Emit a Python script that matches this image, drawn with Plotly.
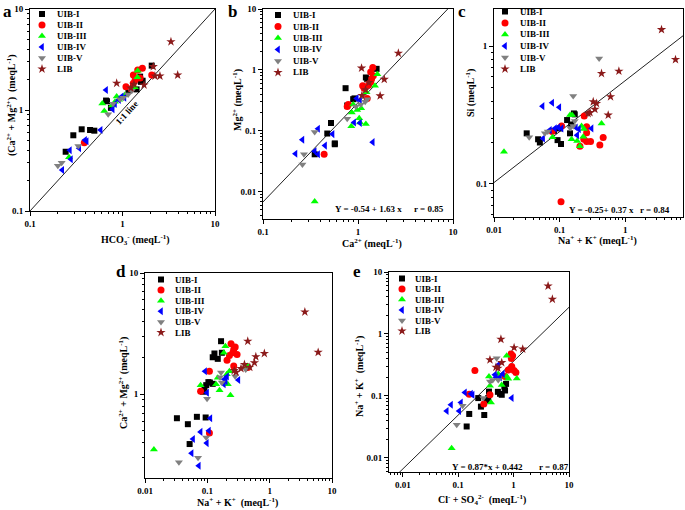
import numpy as np
import plotly.graph_objects as go

W, H = 685, 510
FONT = "Liberation Serif"

GROUPS = ["UIB-I", "UIB-II", "UIB-III", "UIB-IV", "UIB-V", "LIB"]
COLORS = ["#000000", "#FF0000", "#00FF00", "#0000FF", "#808080", "#8B1A1A"]
SYMBOLS = ["square", "circle", "triangle-up", "triangle-left", "triangle-down", "star"]
SIZES = [6, 7, 7, 7, 7, 7]

# ---------------- Panel a: HCO3- vs Ca2+ + Mg2+ ----------------
A_I_X = [0.243, 0.294, 0.362, 0.446, 0.496, 0.664, 0.68, 0.75, 1.16, 1.42, 1.55, 1.58, 1.65, 2.07]
A_I_Y = [0.386, 0.562, 0.644, 0.634, 0.624, 1.24, 1.22, 1.05, 1.58, 1.60, 2.14, 1.90, 1.95, 2.75]
A_II_X = [1.09, 1.31, 1.37, 1.31, 1.46, 1.64, 2.07, 0.386, 1.24, 1.55]
A_II_Y = [1.70, 2.22, 1.98, 1.84, 2.49, 2.59, 2.22, 0.474, 1.62, 2.07]
A_III_X = [1.46, 1.36, 1.45, 0.865, 0.605, 0.636, 0.83, 0.92, 0.264, 1.06, 0.77]
A_III_Y = [2.45, 1.68, 2.11, 1.36, 1.16, 0.98, 1.21, 1.26, 0.34, 1.41, 1.11]
A_IV_X = [0.664, 0.783, 0.98, 0.916, 0.58, 0.394, 0.41, 0.341, 0.27, 0.277, 0.223, 0.83, 1.05]
A_IV_Y = [1.58, 1.02, 1.36, 1.26, 0.634, 0.504, 0.49, 0.418, 0.40, 0.325, 0.255, 1.15, 1.32]
A_V_X = [0.70, 0.94, 1.02, 1.15, 1.26, 0.333, 0.20, 0.22, 0.79]
A_V_Y = [0.91, 1.28, 1.32, 1.42, 1.55, 0.44, 0.28, 0.30, 1.15]
A_LIB_X = [0.865, 1.71, 2.15, 2.24, 2.54, 3.34, 3.95, 1.23, 1.33]
A_LIB_Y = [1.84, 1.77, 2.69, 2.17, 2.17, 4.74, 2.22, 1.65, 1.80]

# ---------------- Panel b: Ca2+ vs Mg2+ ----------------
B_I_X = [1.57, 1.21, 1.25, 0.74, 0.89, 0.92, 0.77, 0.52, 0.475, 0.57, 0.57, 0.35]
B_I_Y = [1.04, 0.75, 0.70, 0.50, 0.33, 0.34, 0.26, 0.134, 0.090, 0.062, 0.060, 0.041]
B_II_X = [1.43, 1.36, 1.39, 1.36, 1.16, 1.12, 1.29, 1.25, 0.79, 0.77, 0.44, 1.45]
B_II_Y = [1.09, 0.92, 0.71, 0.63, 0.50, 0.55, 0.56, 0.34, 0.27, 0.25, 0.041, 0.80]
B_III_X = [1.60, 1.51, 0.89, 0.86, 1.08, 1.03, 1.05, 1.21, 0.85, 0.35, 0.98, 1.23]
B_III_Y = [0.85, 0.55, 0.27, 0.20, 0.235, 0.16, 0.137, 0.129, 0.118, 0.0069, 0.22, 0.43]
B_IV_X = [0.97, 1.05, 0.91, 1.05, 0.54, 0.38, 0.26, 0.45, 1.43, 0.35, 0.38, 0.22]
B_IV_Y = [0.34, 0.32, 0.137, 0.134, 0.088, 0.108, 0.071, 0.057, 0.065, 0.046, 0.041, 0.042]
B_V_X = [1.07, 1.19, 1.25, 0.95, 0.77, 0.35, 0.27, 0.26]
B_V_Y = [0.27, 0.30, 0.33, 0.25, 0.157, 0.095, 0.041, 0.028]
B_LIB_X = [1.09, 1.89, 1.71, 2.66, 1.20, 1.30, 1.10]
B_LIB_Y = [1.07, 0.70, 0.375, 1.88, 0.47, 0.62, 0.38]
B_FIT = (-0.54, 1.63)

# ---------------- Panel c: Na+ + K+ vs Si ----------------
C_I_X = [0.0315, 0.047, 0.050, 0.093, 0.105, 0.082, 0.101, 0.144, 0.13, 0.165, 0.17, 0.15]
C_I_Y = [0.233, 0.211, 0.20, 0.208, 0.195, 0.243, 0.253, 0.233, 0.291, 0.325, 0.32, 0.27]
C_II_X = [0.107, 0.237, 0.258, 0.234, 0.258, 0.296, 0.41, 0.461, 0.204, 0.105, 0.258, 0.077]
C_II_Y = [0.263, 0.311, 0.235, 0.211, 0.203, 0.203, 0.192, 0.217, 0.188, 0.0744, 0.26, 0.24]
C_III_X = [0.0142, 0.144, 0.155, 0.216, 0.152, 0.185, 0.204, 0.229, 0.435, 0.078, 0.234]
C_III_Y = [0.171, 0.316, 0.316, 0.263, 0.211, 0.205, 0.188, 0.22, 0.275, 0.218, 0.25]
C_IV_X = [0.055, 0.077, 0.099, 0.056, 0.071, 0.085, 0.095, 0.107, 0.177, 0.185, 0.197, 0.307]
C_IV_Y = [0.367, 0.388, 0.36, 0.214, 0.246, 0.253, 0.257, 0.253, 0.257, 0.226, 0.25, 0.253]
C_V_X = [0.40, 0.161, 0.0344, 0.0597, 0.066, 0.161, 0.17, 0.272, 0.145]
C_V_Y = [0.814, 0.435, 0.218, 0.233, 0.24, 0.263, 0.286, 0.325, 0.255]
C_LIB_X = [3.57, 5.83, 0.435, 0.80, 0.597, 0.325, 0.365, 0.345, 0.272, 0.55, 0.29]
C_LIB_Y = [1.32, 0.80, 0.634, 0.659, 0.43, 0.395, 0.384, 0.348, 0.325, 0.316, 0.33]
C_FIT = (-0.25, 0.37)

# ---------------- Panel d: Na+ + K+ vs Ca2+ + Mg2+ ----------------
D_I_X = [0.166, 0.13, 0.122, 0.147, 0.171, 0.104, 0.122, 0.11, 0.096, 0.09, 0.085, 0.0325, 0.0487, 0.068, 0.094, 0.052]
D_I_Y = [2.74, 2.17, 2.02, 1.96, 2.2, 1.26, 1.22, 1.25, 1.19, 1.13, 1.05, 0.635, 0.567, 0.652, 0.644, 0.389]
D_II_X = [0.24, 0.265, 0.256, 0.30, 0.226, 0.207, 0.265, 0.108, 0.078, 0.108, 0.445, 0.28]
D_II_Y = [2.61, 2.34, 2.2, 2.13, 2.09, 1.91, 1.71, 1.55, 1.06, 0.479, 1.66, 2.45]
D_III_X = [0.195, 0.184, 0.0139, 0.445, 0.226, 0.205, 0.147, 0.078, 0.138, 0.213, 0.157, 0.235]
D_III_Y = [2.49, 2.2, 0.35, 1.71, 1.55, 1.46, 1.37, 1.19, 1.21, 1.21, 1.08, 0.98]
D_IV_X = [0.092, 0.207, 0.188, 0.184, 0.197, 0.315, 0.099, 0.112, 0.106, 0.078, 0.059, 0.098, 0.056, 0.073]
D_IV_Y = [1.55, 1.40, 1.33, 1.21, 1.28, 1.31, 1.03, 0.635, 0.50, 0.49, 0.428, 0.396, 0.327, 0.258]
D_V_X = [0.166, 0.171, 0.16, 0.279, 0.413, 0.099, 0.096, 0.071, 0.035]
D_V_Y = [1.51, 1.25, 1.38, 1.41, 1.60, 0.92, 0.44, 0.30, 0.275]
D_LIB_X = [3.67, 6.0, 0.445, 0.822, 0.60, 0.569, 0.394, 0.347, 0.289, 0.27, 0.48]
D_LIB_Y = [4.77, 2.22, 2.74, 2.17, 2.04, 1.82, 1.76, 1.63, 1.52, 1.57, 1.67]

# ---------------- Panel e: Cl- + SO4 2- vs Na+ + K+ ----------------
E_I_X = [0.142, 0.158, 0.295, 0.257, 0.23, 0.327, 0.348, 0.359, 0.567, 0.61, 0.70, 0.68, 0.73, 0.52]
E_I_Y = [0.032, 0.051, 0.049, 0.067, 0.092, 0.084, 0.092, 0.117, 0.108, 0.104, 0.122, 0.141, 0.156, 0.116]
E_II_X = [0.90, 0.96, 0.91, 0.20, 0.80, 1.02, 1.10, 0.925, 0.70, 0.374, 0.29, 0.158]
E_II_Y = [0.476, 0.442, 0.40, 0.256, 0.262, 0.256, 0.238, 0.297, 0.205, 0.104, 0.074, 0.106]
E_III_X = [0.75, 0.359, 0.374, 0.528, 0.75, 0.80, 1.14, 0.61, 0.39, 0.076]
E_III_Y = [0.442, 0.205, 0.145, 0.226, 0.205, 0.188, 0.19, 0.15, 0.078, 0.0143]
E_IV_X = [0.528, 0.48, 0.46, 0.567, 0.64, 0.132, 0.182, 0.17, 0.925, 0.074, 0.112, 0.062, 0.104]
E_IV_Y = [0.316, 0.20, 0.22, 0.20, 0.226, 0.113, 0.104, 0.108, 0.092, 0.072, 0.078, 0.057, 0.057]
E_V_X = [0.494, 0.374, 0.42, 0.528, 0.283, 0.12, 0.094]
E_V_Y = [0.406, 0.17, 0.18, 0.181, 0.092, 0.069, 0.034]
E_LIB_X = [4.19, 5.01, 0.59, 1.02, 1.46, 0.374, 0.61, 0.48, 0.52]
E_LIB_Y = [5.94, 3.63, 0.82, 0.60, 0.57, 0.381, 0.344, 0.29, 0.28]
E_FIT = (-0.44, 0.87)

PANELS = {
    "a": [(A_I_X, A_I_Y), (A_II_X, A_II_Y), (A_III_X, A_III_Y), (A_IV_X, A_IV_Y), (A_V_X, A_V_Y), (A_LIB_X, A_LIB_Y)],
    "b": [(B_I_X, B_I_Y), (B_II_X, B_II_Y), (B_III_X, B_III_Y), (B_IV_X, B_IV_Y), (B_V_X, B_V_Y), (B_LIB_X, B_LIB_Y)],
    "c": [(C_I_X, C_I_Y), (C_II_X, C_II_Y), (C_III_X, C_III_Y), (C_IV_X, C_IV_Y), (C_V_X, C_V_Y), (C_LIB_X, C_LIB_Y)],
    "d": [(D_I_X, D_I_Y), (D_II_X, D_II_Y), (D_III_X, D_III_Y), (D_IV_X, D_IV_Y), (D_V_X, D_V_Y), (D_LIB_X, D_LIB_Y)],
    "e": [(E_I_X, E_I_Y), (E_II_X, E_II_Y), (E_III_X, E_III_Y), (E_IV_X, E_IV_Y), (E_V_X, E_V_Y), (E_LIB_X, E_LIB_Y)],
}

# ---------------- layout (pixel boxes) ----------------
BOX = {
    "a": (30, 215, 9, 211), "b": (263, 453, 9, 219), "c": (494, 683, 9, 217),
    "d": (145, 332, 273, 478), "e": (389, 569, 272, 472),
}
XR = {"a": [-1, 1], "b": [-1, 1], "c": [-2, 0.88], "d": [-2, 1], "e": [-2.25, 1]}
YR = {"a": [-1, 1], "b": [-2.45, 1], "c": [-1.24, 0.27], "d": [-0.69, 1], "e": [-2.23, 1]}
AX = {"a": ("x", "y"), "b": ("x2", "y2"), "c": ("x3", "y3"), "d": ("x4", "y4"), "e": ("x5", "y5")}


def px(xp):
    return xp / W


def py(yp):
    return 1 - yp / H


TF = dict(family=FONT, size=9, color="black", weight="bold")


def decade_ticks(rng):
    lo, hi = rng
    major = [10.0 ** k for k in range(int(np.ceil(lo - 1e-9)), int(np.floor(hi + 1e-9)) + 1)]
    minor = []
    for k in range(int(np.floor(lo)), int(np.ceil(hi)) + 1):
        for m in range(2, 10):
            v = m * 10.0 ** k
            if lo <= np.log10(v) <= hi:
                minor.append(v)
    return major, minor


def fmt(v):
    return "%g" % v


def make_axis(rng, domain, anchor):
    major, minor = decade_ticks(rng)
    return dict(
        type="log", range=rng, domain=domain, anchor=anchor, automargin=False,
        tickmode="array", tickvals=major, ticktext=[fmt(v) for v in major],
        ticks="outside", ticklen=4, tickwidth=1, tickcolor="black",
        showline=True, linecolor="black", linewidth=1, mirror=True,
        showgrid=False, zeroline=False, tickfont=TF,
        minor=dict(tickmode="array", tickvals=minor, ticks="outside", ticklen=2,
                   tickwidth=1, tickcolor="black", showgrid=False),
    )


fig = go.Figure()
layout = dict(width=W, height=H, margin=dict(l=0, r=0, t=0, b=0, autoexpand=False),
              paper_bgcolor="white", plot_bgcolor="rgba(0,0,0,0)", showlegend=False)

for key, (l, r, t, b) in BOX.items():
    xa, ya = AX[key]
    layout["xaxis" + xa[1:]] = make_axis(XR[key], [px(l), px(r)], ya)
    layout["yaxis" + ya[1:]] = make_axis(YR[key], [py(b), py(t)], xa)


def fit_line(key, coef):
    b0, b1 = coef
    lx = np.linspace(XR[key][0], XR[key][1], 50)
    return 10 ** lx, 10 ** (b0 + b1 * lx)


line_style = dict(color="#222222", width=1)
lx_a = np.linspace(XR["a"][0], XR["a"][1], 10)
fig.add_trace(go.Scatter(x=10 ** lx_a, y=10 ** lx_a, mode="lines", line=line_style,
                         xaxis="x", yaxis="y", hoverinfo="skip"))
for key, coef in (("b", B_FIT), ("c", C_FIT), ("e", E_FIT)):
    fx, fy = fit_line(key, coef)
    fig.add_trace(go.Scatter(x=fx, y=fy, mode="lines", line=line_style,
                             xaxis=AX[key][0], yaxis=AX[key][1], hoverinfo="skip"))

for key, series in PANELS.items():
    for gi, (xs, ys) in enumerate(series):
        fig.add_trace(go.Scatter(
            x=xs, y=ys, mode="markers", name=GROUPS[gi],
            marker=dict(symbol=SYMBOLS[gi], color=COLORS[gi], size=SIZES[gi], line=dict(width=0)),
            xaxis=AX[key][0], yaxis=AX[key][1]))

# compact legends drawn on an invisible overlay axis in pixel space
layout["xaxis6"] = dict(domain=[0, 1], range=[0, W], visible=False, anchor="y6",
                        fixedrange=True, automargin=False)
layout["yaxis6"] = dict(domain=[0, 1], range=[H, 0], visible=False, anchor="x6",
                        fixedrange=True, automargin=False)
LEG = {  # marker x, first row y, row step, text x
    "a": (42, 14, 11.0, 55), "b": (278, 15, 11.5, 291), "c": (505, 11.5, 11.5, 518),
    "d": (161, 279.5, 10.6, 173), "e": (402, 278.5, 10.5, 413),
}
annotations = []
for key, (mx, my, step, tx) in LEG.items():
    rows = [my + i * step for i in range(len(GROUPS))]
    for gi, g in enumerate(GROUPS):
        fig.add_trace(go.Scatter(
            x=[mx], y=[rows[gi]], mode="markers", cliponaxis=False,
            marker=dict(symbol=SYMBOLS[gi], color=COLORS[gi], size=SIZES[gi], line=dict(width=0)),
            xaxis="x6", yaxis="y6", hoverinfo="skip"))
        annotations.append(dict(text=g, x=px(tx), y=py(rows[gi]), xref="paper", yref="paper",
                                xanchor="left", yanchor="middle", showarrow=False,
                                font=dict(family=FONT, size=9, color="black", weight="bold")))

TITLE_F = dict(family=FONT, size=10, color="black", weight="bold")
titles = [
    ("HCO<sub>3</sub><sup>-</sup> (meqL<sup>-1</sup>)", 135, 240, 0),
    ("(Ca<sup>2+</sup> + Mg<sup>2+</sup>)  (meqL<sup>-1</sup>)", 12, 105, -90),
    ("Ca<sup>2+</sup> (meqL<sup>-1</sup>)", 372, 243, 0),
    ("Mg<sup>2+</sup> (meqL<sup>-1</sup>)", 238, 100, -90),
    ("Na<sup>+</sup> + K<sup>+</sup> (meqL<sup>-1</sup>)", 597, 240, 0),
    ("Si (meqL<sup>-1</sup>)", 470, 93, -90),
    ("Na<sup>+</sup> + K<sup>+</sup>  (meqL<sup>-1</sup>)", 237, 502, 0),
    ("Ca<sup>2+</sup> + Mg<sup>2+</sup> (meqL<sup>-1</sup>)", 123, 383, -90),
    ("Cl<sup>-</sup> + SO<sub>4</sub><sup>2-</sup>  (meqL<sup>-1</sup>)", 482, 500, 0),
    ("Na<sup>+</sup> + K<sup>+</sup>  (meqL<sup>-1</sup>)", 359, 377, -90),
]
for text, x, y, ang in titles:
    annotations.append(dict(text=text, x=px(x), y=py(y), xref="paper", yref="paper",
                            xanchor="center", yanchor="middle", textangle=ang,
                            showarrow=False, font=TITLE_F))

STAT_F = dict(family=FONT, size=9, color="black", weight="bold")
stats = [
    ("Y = -0.54 + 1.63 x", 333, 209), ("r = 0.85", 412, 209),
    ("Y = -0.25+ 0.37 x", 567, 210), ("r = 0.84", 638, 210),
    ("Y = 0.87*x + 0.442", 450, 467), ("r = 0.87", 537, 467),
]
for text, x, y in stats:
    annotations.append(dict(text=text, x=px(x), y=py(y), xref="paper", yref="paper",
                            xanchor="left", yanchor="middle", showarrow=False, font=STAT_F))

LETTER_F = dict(family=FONT, size=17, color="black", weight="bold")
for text, x, y in (("a", 8, 11), ("b", 232, 11), ("c", 462, 11), ("d", 121, 271), ("e", 357, 271)):
    annotations.append(dict(text=text, x=px(x), y=py(y), xref="paper", yref="paper",
                            xanchor="center", yanchor="middle", showarrow=False, font=LETTER_F))

annotations.append(dict(text="1:1 line", x=np.log10(1.11), y=np.log10(0.93), xref="x", yref="y",
                        textangle=-47.5, showarrow=False, xanchor="center", yanchor="middle",
                        font=dict(family=FONT, size=9, color="black", weight="bold")))

layout["annotations"] = annotations
fig.update_layout(**layout)
fig.write_html("out.html", config={"displayModeBar": False},
               post_script="document.body.style.margin='0';document.body.style.overflow='hidden';")
